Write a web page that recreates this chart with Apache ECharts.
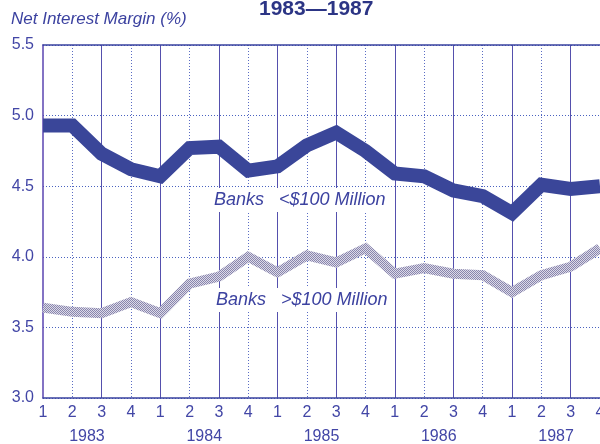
<!DOCTYPE html>
<html>
<head>
<meta charset="utf-8">
<script src="https://cdn.jsdelivr.net/npm/echarts@6/dist/echarts.min.js"></script>
<style>
html,body{margin:0;padding:0;background:#fff;}
#chart{width:600px;height:444px;}
</style>
</head>
<body>
<div id="chart"></div>
<script>
const years = ['1983', '1984', '1985', '1986', '1987'];
const quarterLabels = ['1', '2', '3', '4'];
const smallBanks = [4.93, 4.93, 4.73, 4.62, 4.57, 4.77, 4.78, 4.61, 4.64, 4.79,
                    4.88, 4.75, 4.59, 4.57, 4.47, 4.43, 4.31, 4.51, 4.48, 4.50];
const largeBanks = [3.64, 3.61, 3.60, 3.68, 3.60, 3.81, 3.86, 4.00, 3.89, 4.01,
                    3.96, 4.06, 3.88, 3.92, 3.88, 3.87, 3.75, 3.87, 3.93, 4.06];
const yTicks = [3.0, 3.5, 4.0, 4.5, 5.0, 5.5];
const titleText = '1983\u20141987';
const yAxisTitle = 'Net Interest Margin (%)';
const smallLabel = 'Banks   <$100 Million';
const largeLabel = 'Banks   >$100 Million';

const categories = [];
years.forEach(y => quarterLabels.forEach(q => categories.push(y + ' Q' + q)));

const blue = '#3a43a0';
const font = 'Liberation Sans, Arial, sans-serif';

const pc = document.createElement('canvas');
pc.width = 2; pc.height = 2;
const pctx = pc.getContext('2d');
pctx.fillStyle = '#dcdae8'; pctx.fillRect(0, 0, 2, 2);
pctx.fillStyle = '#8986ad'; pctx.fillRect(0, 0, 1, 1); pctx.fillRect(1, 1, 1, 1);

const chart = echarts.init(document.getElementById('chart'), null, {renderer: 'canvas'});
chart.setOption({
  animation: false,
  backgroundColor: '#ffffff',
  title: {
    text: titleText,
    left: 254, top: -6,
    textStyle: {color: '#2c3585', fontSize: 21, fontWeight: 'bold', fontFamily: font}
  },
  grid: {left: 43, right: 0, top: 45, bottom: 46, containLabel: false, outerBoundsMode: 'none'},
  xAxis: [
    {
      type: 'category', data: categories, boundaryGap: false, position: 'bottom',
      axisLine: {show: true, lineStyle: {color: blue, width: 1.5}},
      axisTick: {show: false},
      axisLabel: {
        color: '#4246a6', fontSize: 16, fontFamily: font, margin: 7,
        interval: 0, formatter: (v) => v.split(' Q')[1]
      },
      splitLine: {
        show: true,
        interval: (i) => i > 0 && i % 2 === 0,
        lineStyle: {color: '#5550ad', width: 1, type: 'solid'}
      }
    },
    {
      type: 'value', min: 0, max: categories.length - 1, interval: 0.5,
      position: 'bottom', offset: 24,
      axisLine: {show: false}, axisTick: {show: false}, splitLine: {show: false},
      axisLabel: {
        color: '#4246a6', fontSize: 16, fontFamily: font, margin: 7,
        showMinLabel: true, showMaxLabel: true,
        formatter: (v) => {
          const k = (v - 1.5) / 4;
          return (Number.isInteger(k) && years[k]) ? years[k] : '';
        }
      }
    },
    {
      type: 'category', data: categories, boundaryGap: false, position: 'top',
      axisLine: {show: true, lineStyle: {color: blue, width: 1.5}},
      axisTick: {show: false}, axisLabel: {show: false},
      splitLine: {
        show: true,
        interval: (i) => i % 2 === 1,
        lineStyle: {color: '#5a6cc4', width: 1, type: [1, 2]}
      }
    }
  ],
  yAxis: {
    type: 'value', min: yTicks[0], max: yTicks[yTicks.length - 1], interval: 0.5,
    offset: 3,
    axisLine: {show: true, lineStyle: {color: '#5a45b0', width: 1.5}},
    axisTick: {show: false},
    axisLabel: {color: '#4246a6', fontSize: 16, fontFamily: font, margin: 6,
                formatter: (v) => v.toFixed(1)},
    splitLine: {show: true, lineStyle: {color: '#4a62c0', width: 1, type: [1, 2]}}
  },
  graphic: [
    {type: 'text', left: 11, top: 11,
     style: {text: yAxisTitle, fill: '#3c42a0', font: 'italic 17px ' + font}},
    {type: 'text', left: 209, top: 188, z: 50,
     style: {text: smallLabel, fill: '#3c42a0', font: 'italic 18px ' + font,
             backgroundColor: '#ffffff', padding: [3, 5, 3, 5]}},
    {type: 'text', left: 211, top: 288, z: 50,
     style: {text: largeLabel, fill: '#3c42a0', font: 'italic 18px ' + font,
             backgroundColor: '#ffffff', padding: [3, 5, 3, 5]}}
  ],
  series: [
    {
      name: largeLabel, type: 'line', data: largeBanks, xAxisIndex: 0,
      symbol: 'none', z: 60,
      lineStyle: {width: 10, color: {image: pc, repeat: 'repeat'}, join: 'miter', cap: 'butt'}
    },
    {
      name: smallLabel, type: 'line', data: smallBanks, xAxisIndex: 0,
      symbol: 'none', z: 61,
      lineStyle: {width: 14, color: '#3a4699', join: 'miter', cap: 'butt'}
    }
  ]
});
</script>
</body>
</html>
